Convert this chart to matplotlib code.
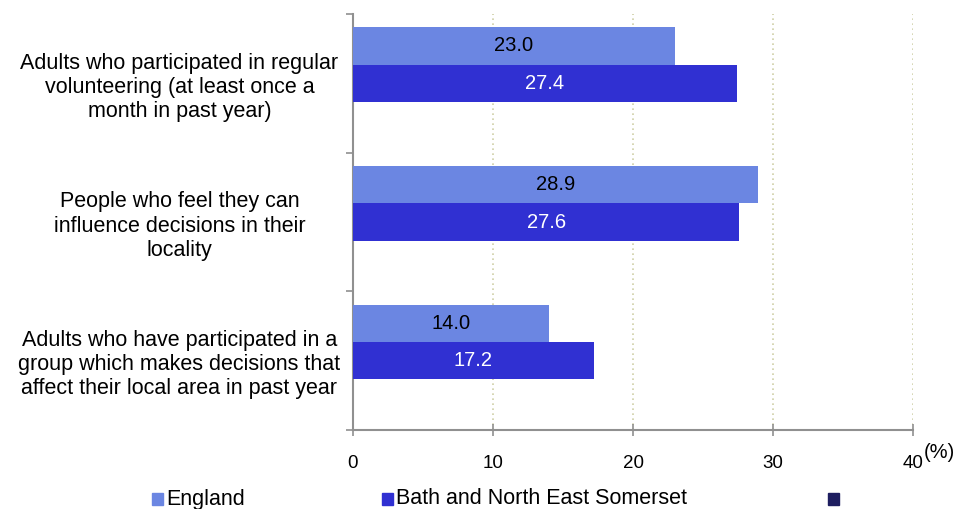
import matplotlib.pyplot as plt
import numpy as np

plt.rcParams['font.family'] = ['Liberation Sans', 'DejaVu Sans']

# Data
categories = [
    "Adults who participated in regular\nvolunteering (at least once a\nmonth in past year)",
    "People who feel they can\ninfluence decisions in their\nlocality",
    "Adults who have participated in a\ngroup which makes decisions that\naffect their local area in past year",
]
england = [23.0, 28.9, 14.0]
bath = [27.4, 27.6, 17.2]
series_names = ["England", "Bath and North East Somerset", ""]
xticks = [0, 10, 20, 30, 40]

c_eng = "#6B86E2"
c_bath = "#3030D2"
c_third = "#1E1E60"

fig = plt.figure(figsize=(9.66, 5.09), dpi=100)
ax = fig.add_axes([353 / 966, 1 - 430 / 509, 560 / 966, 416 / 509])

y = np.arange(len(categories))
h = 0.27
# third (empty) series slot sits below Bath, so England is offset by a full bar
ax.barh(y - h, england, height=h, color=c_eng, zorder=3)
ax.barh(y, bath, height=h, color=c_bath, zorder=3)

for i in range(len(categories)):
    ax.text(england[i] / 2, y[i] - h, f"{england[i]:.1f}", ha="center", va="center",
            fontsize=14.5, color="black", zorder=4)
    ax.text(bath[i] / 2, y[i], f"{bath[i]:.1f}", ha="center", va="center",
            fontsize=14.5, color="white", zorder=4)

ax.set_xlim(0, 40)
ax.set_ylim(len(categories) - 0.5, -0.5)
ax.set_xticks(xticks)
ax.set_xticklabels([str(t) for t in xticks], fontsize=13.5)
ax.xaxis.grid(True, linestyle=(0, (1, 2)), color="#cfcfa8", linewidth=1.2, zorder=0)

# category boundary ticks on y axis
ax.set_yticks([-0.5, 0.5, 1.5, 2.5])
ax.set_yticklabels([])
ax.set_yticks(y, minor=True)
ax.set_yticklabels(categories, minor=True, fontsize=15.5, ha="center", linespacing=1.2)
ax.tick_params(axis="y", which="minor", length=0, pad=125)
ax.tick_params(axis="y", which="major", length=5, color="#909090", width=1.2)
ax.tick_params(axis="x", direction="inout", length=8, color="#909090", width=1.2, pad=14)

for s in ["top", "right"]:
    ax.spines[s].set_visible(False)
for s in ["left", "bottom"]:
    ax.spines[s].set_color("#909090")
    ax.spines[s].set_linewidth(1.5)

fig.text(924 / 966, 1 - 452 / 509, "(%)", fontsize=14.5, ha="left", va="center")

# legend
leg_x = [152, 382, 828]
for hx, c, name in zip(leg_x, [c_eng, c_bath, c_third], series_names):
    fig.patches.append(plt.Rectangle((hx / 966, 1 - 505 / 509), 11 / 966, 12 / 509,
                                     transform=fig.transFigure, color=c, figure=fig))
    fig.text((hx + 14) / 966, 1 - 499 / 509, name, fontsize=15.5, ha="left", va="center")

fig.savefig("out.png", dpi=100)
